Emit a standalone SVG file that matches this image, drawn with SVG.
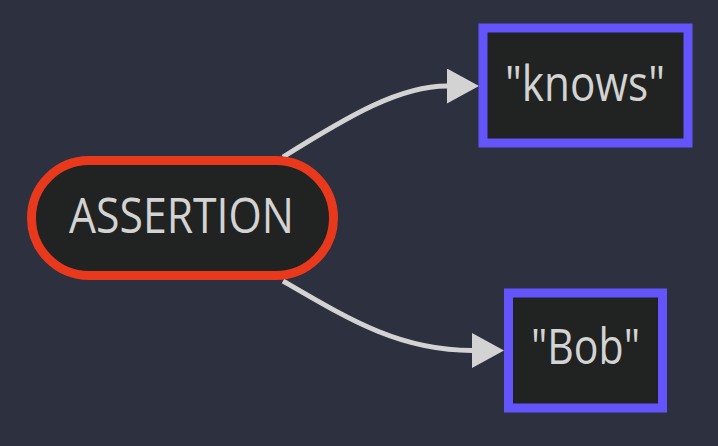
<svg xmlns="http://www.w3.org/2000/svg" width="718" height="446" viewBox="0 0 718 446">
  <defs>
    <style>
      .bg { fill: #2d303e; }
      .node { fill: #212322; stroke-width: 9; }
      .root { stroke: #e8391c; }
      .leaf { stroke: #6355fb; }
      .label { font-family: "Open Sans", "Noto Sans", sans-serif; font-size: 49px; font-weight: 500; fill: #d3d3d3; text-anchor: middle; }
      .edge { fill: none; stroke: #d3d3d3; stroke-width: 5; }
    </style>
    <marker id="arrow" markerUnits="userSpaceOnUse" markerWidth="34" markerHeight="36" refX="0" refY="17.5" orient="auto" viewBox="0 0 34 36">
      <path d="M0,0 L32,17.5 L0,35 z" fill="#d3d3d3"/>
    </marker>
  </defs>
  <rect class="bg" x="0" y="0" width="718" height="446"/>
  <g id="connectors">
    <path class="edge" d="M283,157 C350,115 400,86 447,86" marker-end="url(#arrow)"/>
    <path class="edge" d="M283,281 C350,320 400,350.5 472,350.5" marker-end="url(#arrow)"/>
  </g>
  <g id="node-assertion">
    <rect class="node root" x="31.5" y="160.5" width="302" height="115" rx="57.5" ry="57.5"/>
    <text class="label" x="181.5" y="232.7" textLength="225" lengthAdjust="spacingAndGlyphs">ASSERTION</text>
  </g>
  <g id="node-knows">
    <rect class="node leaf" x="483" y="28" width="205" height="115"/>
    <text class="label" x="585" y="100.7" textLength="160" lengthAdjust="spacingAndGlyphs">"knows"</text>
  </g>
  <g id="node-bob">
    <rect class="node leaf" x="508.5" y="293" width="154" height="115"/>
    <text class="label" x="585.5" y="364" textLength="109" lengthAdjust="spacingAndGlyphs">"Bob"</text>
  </g>
</svg>
